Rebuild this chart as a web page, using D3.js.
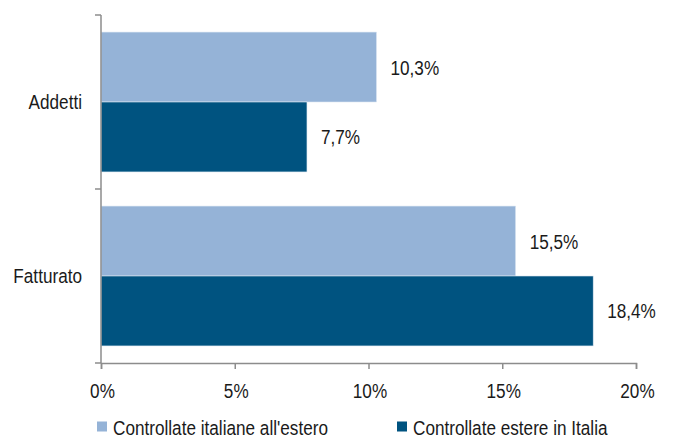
<!DOCTYPE html>
<html>
<head>
<meta charset="utf-8">
<script src="https://cdn.jsdelivr.net/npm/d3@7"></script>
<style>
  html, body { margin: 0; padding: 0; background: #fff; }
  svg { display: block; font-family: "Liberation Sans", Arial, sans-serif; }
</style>
</head>
<body>
<svg id="chart" width="673" height="439"></svg>
<script>
// Categories on the vertical axis
const categories = ["Addetti", "Fatturato"];
// Series names (legend)
const seriesNames = ["Controllate italiane all'estero", "Controllate estere in Italia"];
// Values in percent, one array per series, aligned with categories
const italianeEstero = [10.3, 15.5];
const estereItalia = [7.7, 18.4];
// Horizontal axis ticks
const xTicks = [0, 5, 10, 15, 20];

const colors = ["#95b3d7", "#005380"];
const series = [italianeEstero, estereItalia];

const FONT_SIZE = 19.5;
const SQUEEZE = 0.88; // narrow letterforms

const svg = d3.select("#chart");
const plotLeft = 101, plotRight = 636, plotTop = 15, plotBottom = 363;

const x = d3.scaleLinear().domain([0, 20]).range([plotLeft, plotRight]);
const y = d3.scaleBand().domain(categories).range([plotTop, plotBottom]).paddingInner(0.196).paddingOuter(0.098);
const ySub = d3.scaleBand().domain(d3.range(series.length)).range([0, y.bandwidth()]);

const fmt = v => d3.format(".1f")(v).replace(".", ",") + "%";

// Place a condensed text at (px, py)
function label(parent, px, py, str, anchor) {
  return parent.append("text")
    .attr("transform", `translate(${px},${py}) scale(${SQUEEZE},1)`)
    .attr("text-anchor", anchor || "start")
    .attr("font-size", FONT_SIZE)
    .attr("fill", "#1a1a1a")
    .text(str);
}

// Bars and value labels
series.forEach((vals, si) => {
  const g = svg.append("g");
  g.selectAll("rect").data(categories).join("rect")
    .attr("x", x(0))
    .attr("y", (c) => y(c) + ySub(si))
    .attr("width", (c, i) => x(vals[i]) - x(0))
    .attr("height", ySub.bandwidth())
    .attr("fill", colors[si])
    .attr("stroke", "#dde7f2")
    .attr("stroke-width", 0.6);
  categories.forEach((c, i) => {
    label(g, x(vals[i]) + 14, y(c) + ySub(si) + ySub.bandwidth() / 2 + 7.5, fmt(vals[i]));
  });
});

// Vertical axis with boundary ticks between categories
const axisColor = "#8c8c8c";
const yStep = (plotBottom - plotTop) / categories.length;
svg.append("line").attr("x1", plotLeft).attr("x2", plotLeft).attr("y1", plotTop).attr("y2", plotBottom)
  .attr("stroke", axisColor).attr("stroke-width", 1.5);
d3.range(categories.length + 1).forEach(i => {
  svg.append("line").attr("x1", plotLeft - 6).attr("x2", plotLeft)
    .attr("y1", plotTop + i * yStep).attr("y2", plotTop + i * yStep)
    .attr("stroke", axisColor).attr("stroke-width", 1.5);
});
const gCat = svg.append("g");
categories.forEach(c => {
  label(gCat, 82, y(c) + y.bandwidth() / 2 + 6.5, c, "end");
});

// Horizontal axis
const xAxis = d3.axisBottom(x).tickValues(xTicks).tickSize(6).tickPadding(10).tickFormat(d => d + "%");
const gx = svg.append("g").attr("transform", `translate(0,${plotBottom})`).call(xAxis);
gx.select(".domain").attr("stroke", axisColor).attr("stroke-width", 1.5);
gx.selectAll(".tick line").attr("stroke", axisColor).attr("stroke-width", 1.5);
gx.selectAll(".tick text")
  .attr("y", null).attr("dy", null)
  .attr("transform", `translate(1,35) scale(${SQUEEZE},1)`)
  .attr("font-size", FONT_SIZE).attr("fill", "#1a1a1a")
  .attr("font-family", "Liberation Sans, Arial, sans-serif");

// Legend
const legendX = [97, 397];
const lg = svg.append("g");
seriesNames.forEach((name, i) => {
  lg.append("rect").attr("x", legendX[i]).attr("y", 421.5).attr("width", 10).attr("height", 10).attr("fill", colors[i]);
  label(lg, legendX[i] + 16, 434.8, name);
});
</script>
</body>
</html>
